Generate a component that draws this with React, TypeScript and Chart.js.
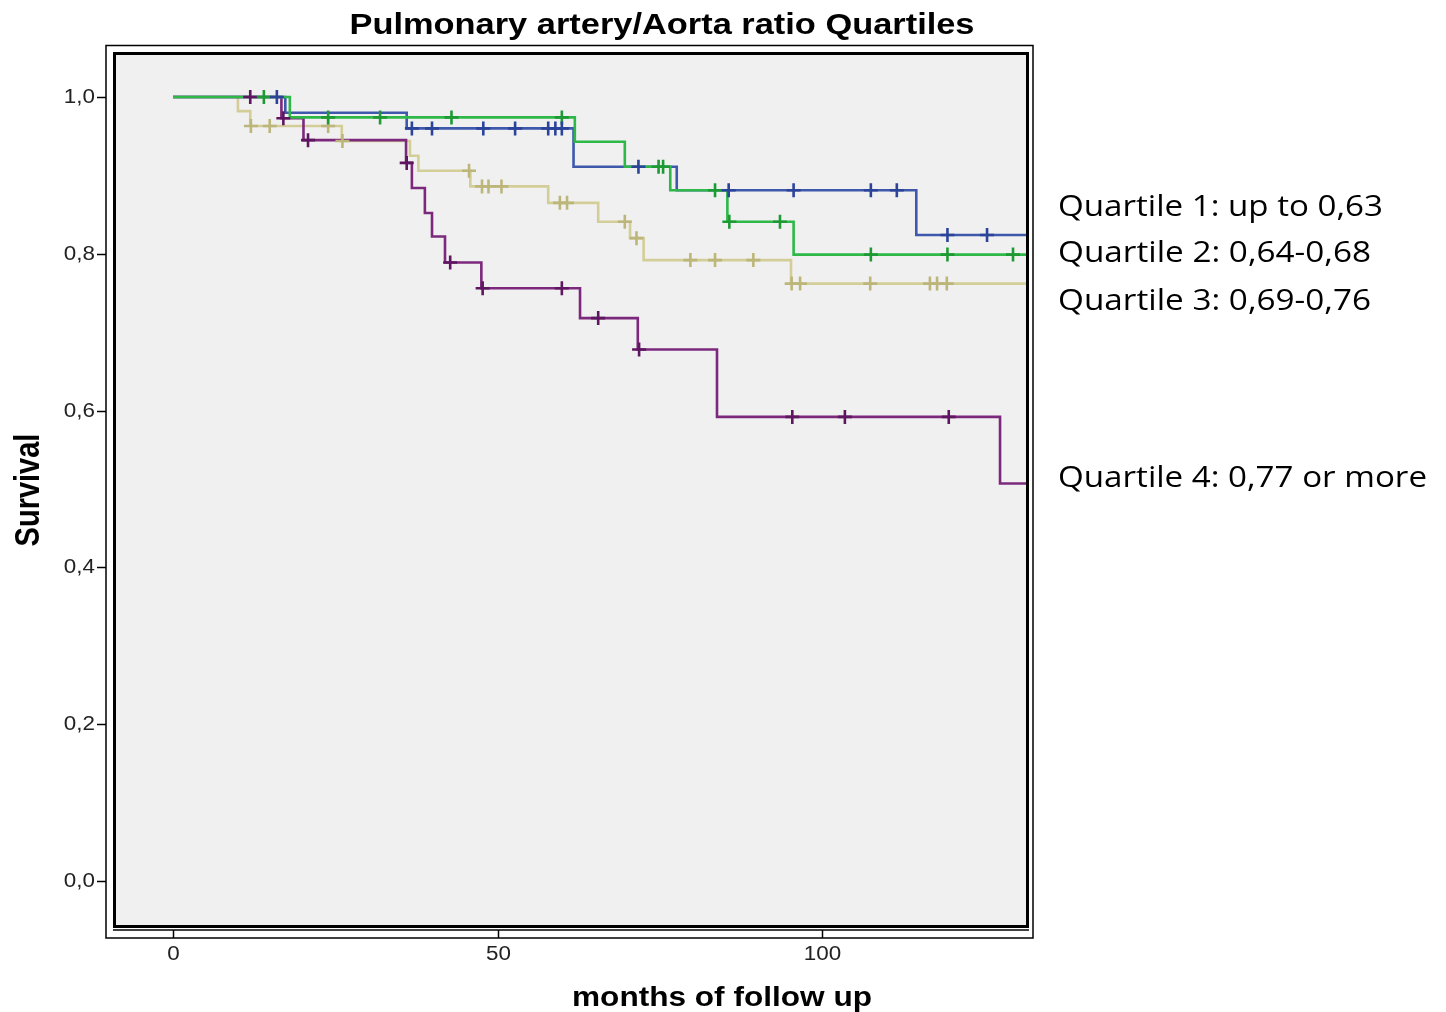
import React, { useEffect, useRef } from "react";
import { Chart, registerables } from "chart.js";

Chart.register(...registerables);

// ---------- axis ranges & ticks ----------
const X_MIN = -8.78;
const X_MAX = 131.4;
const Y_MIN = -0.0561;
const Y_MAX = 1.0536;
const X_TICKS = [0, 50, 100];
const Y_TICKS = [0, 0.2, 0.4, 0.6, 0.8, 1.0];

// ---------- text ----------
const TITLE = "Pulmonary artery/Aorta ratio Quartiles";
const X_TITLE = "months of follow up";
const Y_TITLE = "Survival";
const GROUP_LABELS = [
  "Quartile 1: up to 0,63",
  "Quartile 2: 0,64-0,68",
  "Quartile 3: 0,69-0,76",
  "Quartile 4: 0,77 or more",
];

// ---------- Kaplan-Meier data (months, cumulative survival) ----------
const Q1_EVENT_TIMES = [17.3, 36.0, 61.7, 77.6, 114.5];
const Q1_SURVIVAL = [0.98, 0.96, 0.911, 0.881, 0.824];
const Q1_CENSORED = [16.0, 36.8, 39.9, 47.8, 52.7, 57.8, 58.9, 59.9, 71.7, 85.6, 95.6, 107.5, 111.5, 119.3, 125.4];

const Q2_EVENT_TIMES = [18.0, 61.9, 69.6, 76.6, 85.4, 95.6];
const Q2_SURVIVAL = [0.974, 0.943, 0.911, 0.881, 0.841, 0.799];
const Q2_CENSORED = [14.0, 23.9, 31.9, 42.9, 59.9, 74.8, 75.5, 83.5, 85.7, 93.5, 107.5, 119.3, 129.4];

const Q3_EVENT_TIMES = [10.0, 11.9, 26.0, 36.5, 37.8, 45.8, 57.8, 65.5, 70.4, 72.5, 95.2];
const Q3_SURVIVAL = [0.982, 0.963, 0.944, 0.925, 0.906, 0.886, 0.865, 0.841, 0.82, 0.792, 0.762];
const Q3_CENSORED = [12.0, 14.9, 23.9, 26.1, 45.6, 47.6, 48.6, 50.6, 59.6, 60.7, 69.6, 71.4, 79.7, 83.5, 89.4, 95.3, 96.6, 107.4, 116.6, 117.7, 119.2];

const Q4_EVENT_TIMES = [16.7, 20.1, 35.9, 36.8, 38.8, 39.9, 41.9, 47.5, 62.7, 71.6, 83.8, 127.4];
const Q4_SURVIVAL = [0.973, 0.945, 0.916, 0.884, 0.852, 0.822, 0.789, 0.756, 0.718, 0.678, 0.592, 0.507];
const Q4_CENSORED = [11.9, 17.0, 20.8, 36.0, 42.7, 47.7, 59.9, 65.5, 71.8, 95.4, 103.5, 119.5];

// ---------- styles ----------
const LINE_COLORS = ["#3E58AC", "#2EB848", "#D3CE97", "#7C287D"];
const MARK_COLORS = ["#2B4399", "#1E9A35", "#BDB67B", "#5E1660"];
const PLOT_BG = "#f0f0f0";
const ARIAL = '"Liberation Sans", Arial, sans-serif';
const LEGEND_FONT = '"Open Sans", "Noto Sans", sans-serif';
const LEGEND_Y = [207, 253, 301, 478];
const LEGEND_WIDTHS = [325, 313, 313, 369];

function survivalAt(times: number[], surv: number[], t: number) {
  let s = 1;
  for (let i = 0; i < times.length; i++) if (times[i] <= t) s = surv[i];
  return s;
}

function curve(times: number[], surv: number[]) {
  const pts = [{ x: 0, y: 1 }];
  times.forEach((t, i) => pts.push({ x: t, y: surv[i] }));
  pts.push({ x: X_MAX, y: surv[surv.length - 1] });
  return pts;
}

function marks(times: number[], surv: number[], cens: number[]) {
  return cens.map((t) => ({ x: t, y: survivalAt(times, surv, t) }));
}

function drawText(
  ctx: CanvasRenderingContext2D,
  text: string,
  x: number,
  y: number,
  font: string,
  align: CanvasTextAlign,
  baseline: CanvasTextBaseline,
  opts: { sx?: number; width?: number; rotate?: boolean; sy?: number; color?: string } = {}
) {
  ctx.save();
  ctx.font = font;
  ctx.fillStyle = opts.color ?? "#000";
  ctx.textAlign = align;
  ctx.textBaseline = baseline;
  ctx.translate(x, y);
  if (opts.rotate) ctx.rotate(-Math.PI / 2);
  let sx = opts.sx ?? 1;
  if (opts.width) sx = opts.width / ctx.measureText(text).width;
  ctx.scale(sx, opts.sy ?? 1);
  ctx.fillText(text, 0, 0);
  ctx.restore();
}

const framePlugin = {
  id: "spssFrame",
  beforeDraw(chart: any) {
    const { ctx, chartArea: ca, width, height } = chart;
    ctx.save();
    ctx.fillStyle = "#fff";
    ctx.fillRect(0, 0, width, height);
    ctx.fillStyle = PLOT_BG;
    ctx.fillRect(ca.left, ca.top, ca.right - ca.left, ca.bottom - ca.top);
    ctx.restore();
  },
  afterDraw(chart: any) {
    const { ctx, chartArea: ca } = chart;
    const xs = chart.scales.x;
    const ys = chart.scales.y;
    ctx.save();
    ctx.strokeStyle = "#000";
    // thick inner border
    ctx.lineWidth = 3;
    ctx.strokeRect(ca.left - 1.5, ca.top - 1.5, ca.right - ca.left + 3, ca.bottom - ca.top + 3);
    // outer thin frame
    ctx.lineWidth = 1.5;
    ctx.strokeRect(ca.left - 10, ca.top - 9.5, ca.right - ca.left + 17, ca.bottom - ca.top + 22.5);
    // axis line
    ctx.beginPath();
    ctx.moveTo(ca.left - 3, ca.bottom + 5);
    ctx.lineTo(ca.right + 3, ca.bottom + 5);
    ctx.stroke();
    // x ticks
    ctx.lineWidth = 1.5;
    X_TICKS.forEach((v) => {
      const px = Math.round(xs.getPixelForValue(v)) + 0.5;
      ctx.beginPath();
      ctx.moveTo(px, ca.bottom + 5);
      ctx.lineTo(px, ca.bottom + 13);
      ctx.stroke();
      drawText(ctx, String(v), px, ca.bottom + 29, `20px ${ARIAL}`, "center", "middle", { sx: 1.12, color: "#222" });
    });
    // y ticks
    Y_TICKS.forEach((v) => {
      const py = Math.round(ys.getPixelForValue(v)) + 0.5;
      ctx.beginPath();
      ctx.moveTo(ca.left - 19, py);
      ctx.lineTo(ca.left - 10, py);
      ctx.stroke();
      drawText(ctx, v.toFixed(1).replace(".", ","), ca.left - 21, py, `20px ${ARIAL}`, "right", "middle", {
        sx: 1.12,
        color: "#222",
      });
    });
    // titles
    drawText(ctx, TITLE, 662, 34, `bold 30px ${ARIAL}`, "center", "alphabetic", { width: 625 });
    drawText(ctx, X_TITLE, 722, 1006, `bold 28px ${ARIAL}`, "center", "alphabetic", { width: 300 });
    drawText(ctx, Y_TITLE, 39, (ca.top + ca.bottom) / 2, `bold 29px ${ARIAL}`, "center", "alphabetic", {
      rotate: true,
      sy: 1.2,
    });
    // group labels
    GROUP_LABELS.forEach((lab, i) => {
      drawText(ctx, lab, 1058, LEGEND_Y[i], `30px ${LEGEND_FONT}`, "left", "middle", { width: LEGEND_WIDTHS[i] });
    });
    ctx.restore();
  },
};

export default function App() {
  const ref = useRef<HTMLCanvasElement>(null);
  useEffect(() => {
    const groups = [
      [Q1_EVENT_TIMES, Q1_SURVIVAL, Q1_CENSORED],
      [Q2_EVENT_TIMES, Q2_SURVIVAL, Q2_CENSORED],
      [Q3_EVENT_TIMES, Q3_SURVIVAL, Q3_CENSORED],
      [Q4_EVENT_TIMES, Q4_SURVIVAL, Q4_CENSORED],
    ];
    const lineOrder = [5, 4, 7, 6];
    const datasets: any[] = [];
    groups.forEach(([t, s], i) => {
      datasets.push({
        label: GROUP_LABELS[i],
        data: curve(t, s),
        stepped: "before",
        borderColor: LINE_COLORS[i],
        borderWidth: 2.6,
        pointRadius: 0,
        fill: false,
        order: lineOrder[i],
      });
    });
    groups.forEach(([t, s, c], i) => {
      datasets.push({
        label: GROUP_LABELS[i] + " censored",
        data: marks(t, s, c),
        showLine: false,
        pointStyle: "cross",
        pointRadius: 7,
        pointBorderWidth: 2.6,
        pointBorderColor: MARK_COLORS[i],
        pointBackgroundColor: MARK_COLORS[i],
        order: i,
      });
    });
    const chart = new Chart(ref.current!, {
      type: "line",
      data: { datasets },
      options: {
        responsive: false,
        animation: false,
        devicePixelRatio: 1,
        layout: { padding: { left: 116, top: 55, right: 420, bottom: 87 } },
        scales: {
          x: { type: "linear", display: false, min: X_MIN, max: X_MAX },
          y: { type: "linear", display: false, min: Y_MIN, max: Y_MAX },
        },
        plugins: { legend: { display: false }, tooltip: { enabled: false }, title: { display: false } },
      },
      plugins: [framePlugin],
    } as any);
    return () => chart.destroy();
  }, []);
  return (
    <div style={{ position: "fixed", left: 0, top: 0, width: 1446, height: 1012, background: "#fff" }}>
      <canvas ref={ref} width={1446} height={1012} style={{ display: "block" }} />
    </div>
  );
}
